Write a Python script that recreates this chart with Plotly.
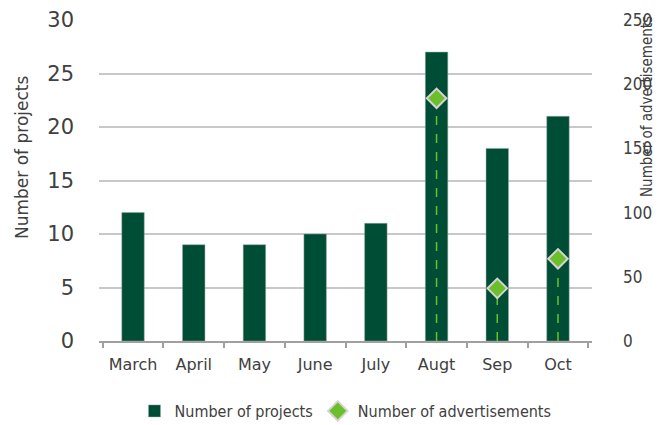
import plotly.graph_objects as go

months = ["March", "April", "May", "June", "July", "Augt", "Sep", "Oct"]
projects = [12, 9, 9, 10, 11, 27, 18, 21]
ads = [None, None, None, None, None, 189, 41, 64]

# drop lines from each advertisement marker down to zero
drop_x, drop_y = [], []
for m, v in zip(months, ads):
    if v is not None:
        drop_x += [m, m, None]
        drop_y += [0, v, None]

MAIN = "DejaVu Sans, sans-serif"
NARROW = "'DejaVu Sans Condensed', 'Liberation Sans Narrow', 'Roboto Condensed', sans-serif"
TXT = "#404040"

fig = go.Figure()
fig.add_trace(go.Bar(
    x=months, y=projects, name="Number of projects",
    marker=dict(color="#004d35", line=dict(color="#9aa9a0", width=0.5)),
    yaxis="y",
))
fig.add_trace(go.Scatter(
    x=drop_x, y=drop_y, mode="lines", yaxis="y2", showlegend=False,
    line=dict(color="#6cbf2a", width=1.5, dash="dash"), hoverinfo="skip",
))
fig.add_trace(go.Scatter(
    x=months, y=ads, name="Number of advertisements", mode="markers",
    marker=dict(symbol="diamond", size=15, color="#6cbf2a",
                line=dict(color="#d4d4d4", width=2)),
    yaxis="y2",
))

fig.update_layout(
    width=669, height=425,
    margin=dict(l=99, r=77, t=20, b=84),
    paper_bgcolor="white", plot_bgcolor="white",
    bargap=0.63,
    font=dict(family=MAIN, color=TXT),
    xaxis=dict(
        automargin=False, tickangle=0,
        showline=True, linecolor="#a0a0a0", linewidth=2,
        ticks="outside", tickson="boundaries", tickcolor="#a0a0a0", ticklen=5, tickwidth=2,
        tickfont=dict(size=16, color=TXT), ticklabelstandoff=8,
    ),
    yaxis=dict(
        automargin=False,
        range=[0, 30], dtick=5, showgrid=True, gridcolor="#c8c8c8", gridwidth=2,
        zeroline=False, showline=False,
        tickfont=dict(size=21, color=TXT), ticklabelstandoff=24,
    ),
    yaxis2=dict(
        automargin=False,
        range=[0, 250], dtick=50, overlaying="y", side="right", showgrid=False,
        zeroline=False, showline=False,
        tickfont=dict(size=17, color=TXT, family=NARROW),
        ticklabelstandoff=30,
    ),
    legend=dict(orientation="h", x=0.5, xanchor="center",
                yref="container", y=1 - 411 / 425, yanchor="middle",
                font=dict(size=16, family=NARROW, color=TXT),
                itemwidth=30),
    showlegend=True,
    annotations=[
        dict(text="Number of projects", textangle=-90, xref="paper", yref="paper",
             x=(22 - 99) / 493, y=(341 - 158) / 321, xanchor="center", yanchor="middle",
             showarrow=False, font=dict(size=17, family=MAIN, color=TXT)),
        dict(text="Number of advertisements", textangle=-90, xref="paper", yref="paper",
             x=(647 - 99) / 493, y=(341 - 107) / 321, xanchor="center", yanchor="middle",
             showarrow=False, font=dict(size=15, family=NARROW, color=TXT)),
    ],
)

fig.write_html("out.html", config={"displayModeBar": False},
               post_script="document.body.style.margin='0';")
